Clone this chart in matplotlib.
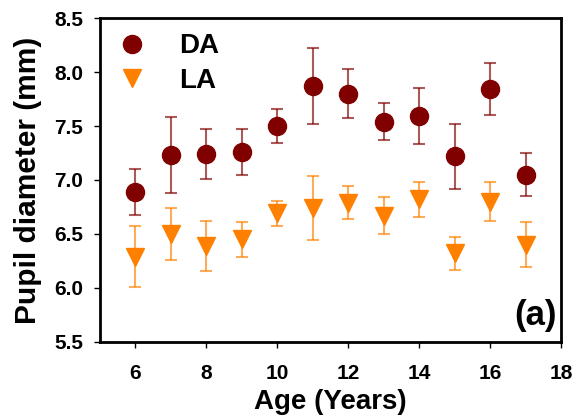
import matplotlib
matplotlib.use("Agg")
import matplotlib.pyplot as plt

plt.rcParams["font.family"] = ["Liberation Sans", "DejaVu Sans"]
plt.rcParams["font.weight"] = "bold"

# ages
age = [6, 7, 8, 9, 10, 11, 12, 13, 14, 15, 16, 17]

# DA: mean pupil diameter and error
da_mean = [6.89, 7.23, 7.24, 7.26, 7.50, 7.87, 7.80, 7.54, 7.59, 7.22, 7.84, 7.05]
da_err = [0.21, 0.35, 0.23, 0.21, 0.16, 0.35, 0.23, 0.17, 0.26, 0.30, 0.24, 0.20]

# LA
la_mean = [6.29, 6.50, 6.39, 6.45, 6.69, 6.74, 6.79, 6.67, 6.82, 6.32, 6.80, 6.40]
la_err = [0.28, 0.24, 0.23, 0.16, 0.12, 0.30, 0.15, 0.17, 0.16, 0.15, 0.18, 0.21]

da_col = '#800000'
la_col = '#ff8000'

fig = plt.figure(figsize=(5.74, 4.17), dpi=100)
ax = fig.add_axes([0.1742, 0.1799, 0.8032, 0.7769])

ax.errorbar(age, da_mean, yerr=da_err, fmt='none', ecolor=da_col, alpha=0.65,
            elinewidth=1.5, capsize=4, capthick=1.5)
ax.errorbar(age, la_mean, yerr=la_err, fmt='none', ecolor=la_col, alpha=0.65,
            elinewidth=1.5, capsize=4, capthick=1.5)
ax.plot(age, da_mean, 'o', color=da_col, markersize=13, linestyle='none', label='DA')
ax.plot(age, la_mean, 'v', color=la_col, markersize=13, linestyle='none', label='LA')

ax.set_xlim(5, 18)
ax.set_ylim(5.5, 8.5)
ax.set_xticks([6, 8, 10, 12, 14, 16, 18])
ax.set_yticks([5.5, 6.0, 6.5, 7.0, 7.5, 8.0, 8.5])
ax.set_yticklabels(['5.5', '6.0', '6.5', '7.0', '7.5', '8.0', '8.5'])
ax.tick_params(axis='x', direction='out', length=4, width=1, labelsize=15, pad=12)
ax.tick_params(axis='y', direction='out', length=4, width=1, labelsize=15, pad=8)
for s in ax.spines.values():
    s.set_linewidth(2)

ax.set_xlabel('Age (Years)', fontsize=20, fontweight='bold', labelpad=4)
ax.set_ylabel('Pupil diameter (mm)', fontsize=21.5, fontweight='bold', labelpad=9)

ax.legend(loc='upper left', frameon=False, fontsize=20, handlelength=1.2,
          handletextpad=1.1, borderaxespad=0.15, labelspacing=0.3)
ax.text(0.99, 0.03, '(a)', transform=ax.transAxes, ha='right', va='bottom',
        fontsize=25, fontweight='bold')

fig.savefig('out.png', dpi=100)
